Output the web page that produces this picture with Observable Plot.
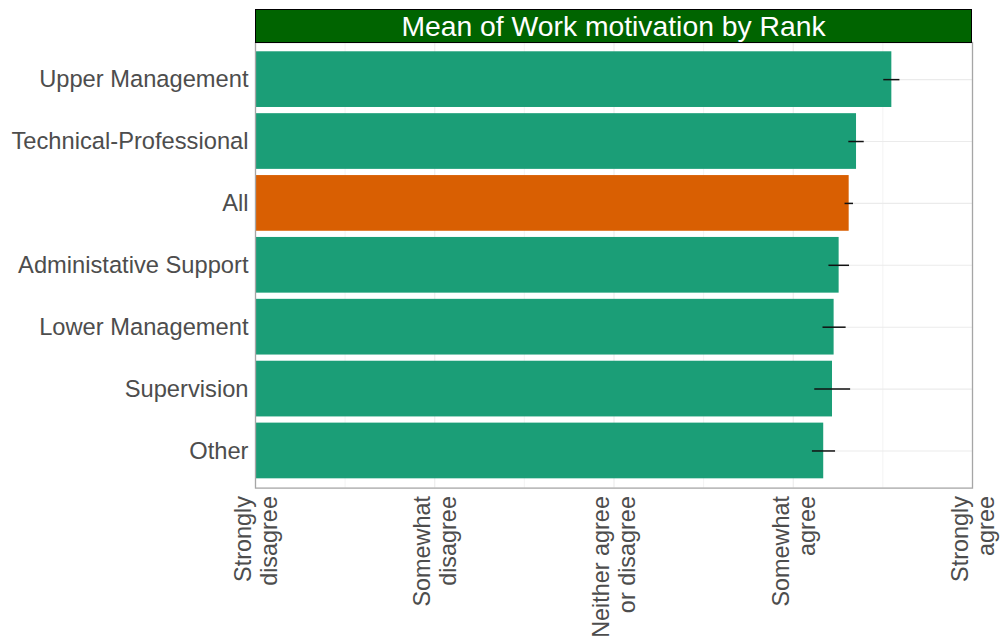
<!DOCTYPE html>
<html><head><meta charset="utf-8">
<script src="https://cdn.jsdelivr.net/npm/d3@7"></script>
<script src="https://cdn.jsdelivr.net/npm/@observablehq/plot@0.6"></script>
<style>
body{margin:0;background:#fff;}
#wrap{position:relative;width:1005px;height:642px;font-family:"Liberation Sans",Arial,sans-serif;}
#wrap svg{position:absolute;left:0;top:0;}
#title{position:absolute;z-index:2;left:255px;top:9px;width:717px;height:34px;box-sizing:border-box;background:#006400;border:1px solid #000;color:#fff;font-size:28.3px;line-height:32px;text-align:center;white-space:nowrap;}
</style></head>
<body><div id="wrap"></div>
<script>
const chartTitle = "Mean of Work motivation by Rank";
const ranks = ["Upper Management","Technical-Professional","All","Administative Support","Lower Management","Supervision","Other"];
const means = [4.550, 4.353, 4.312, 4.256, 4.228, 4.219, 4.170];
const lows  = [4.505, 4.310, 4.289, 4.199, 4.166, 4.120, 4.107];
const highs = [4.595, 4.396, 4.336, 4.314, 4.295, 4.320, 4.236];
const xTickValues = [1, 2, 3, 4, 5];
const xTickLabels = ["Strongly\ndisagree","Somewhat\ndisagree","Neither agree\nor disagree","Somewhat\nagree","Strongly\nagree"];
const xMinorTicks = [1.5, 2.5, 3.5, 4.5];
const highlight = "All";
const barColor = "#1b9e77", highlightColor = "#d95f02";

const data = ranks.map((r, i) => ({rank: r, mean: means[i], lo: lows[i], hi: highs[i]}));

const chart = Plot.plot({
  width: 1005, height: 642,
  marginLeft: 255, marginRight: 33, marginTop: 42, marginBottom: 154.4,
  style: {fontFamily: '"Liberation Sans", Arial, sans-serif', color: "#4d4d4d", background: "white"},
  x: {domain: [1, 5], axis: null},
  y: {domain: ranks, paddingInner: 0.1, paddingOuter: 0.15, round: false, axis: null},
  marks: [
    Plot.gridX(xMinorTicks, {stroke: "#ebebeb", strokeOpacity: 1, strokeWidth: 0.6}),
    Plot.gridX(xTickValues, {stroke: "#ebebeb", strokeOpacity: 1, strokeWidth: 1.1}),
    Plot.gridY(ranks, {stroke: "#ebebeb", strokeOpacity: 1, strokeWidth: 1.1}),
    Plot.barX(data, {x1: 1, x2: "mean", y: "rank", fill: d => d.rank === highlight ? highlightColor : barColor}),
    Plot.ruleY(data, {y: "rank", x1: "lo", x2: "hi", stroke: "#111", strokeWidth: 1.5}),
    Plot.frame({stroke: "#a6a6a6", strokeWidth: 1.3}),
    Plot.axisY({tickSize: 0, tickPadding: 7, fontSize: 23.7, label: null, fill: "#4d4d4d"}),
    Plot.text(xTickValues, {x: d => d, text: (d, i) => xTickLabels[i], frameAnchor: "bottom", dy: 8,
      rotate: -90, textAnchor: "end", lineAnchor: "middle", lineHeight: 1.12, fontSize: 23.4, fill: "#4d4d4d"})
  ]
});
const wrap = document.getElementById("wrap");
wrap.appendChild(chart);
const t = document.createElement("div");
t.id = "title";
t.textContent = chartTitle;
wrap.appendChild(t);
</script>
</body></html>
